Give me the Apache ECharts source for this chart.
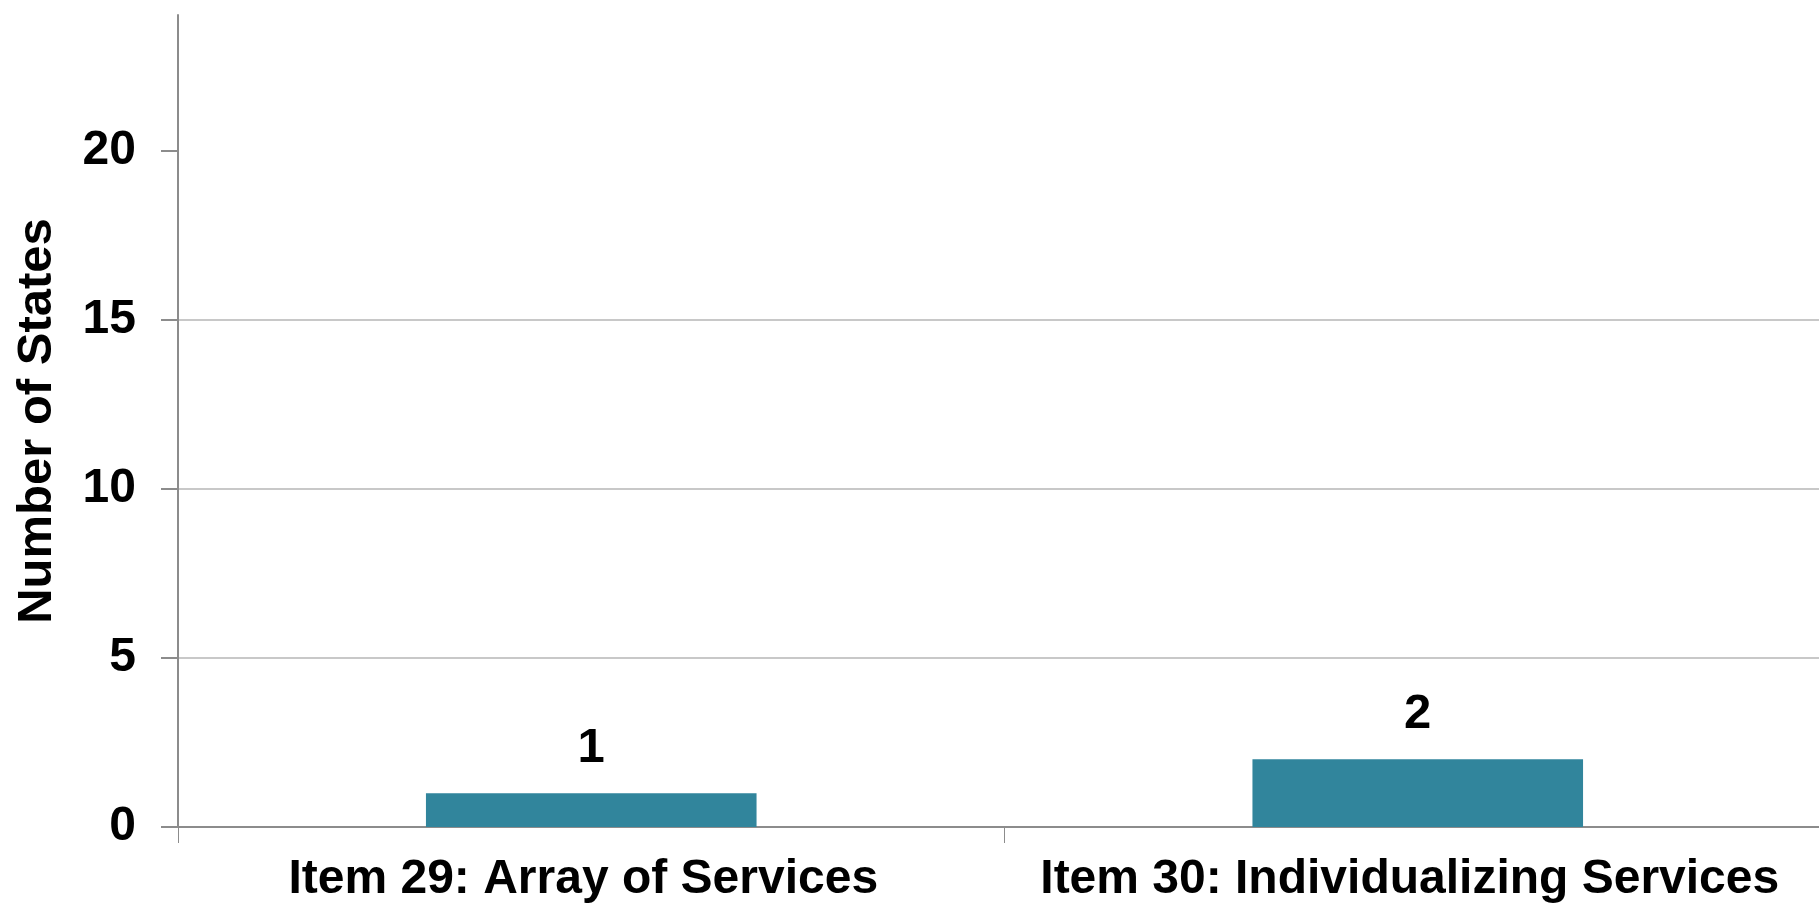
<!DOCTYPE html>
<html>
<head>
<meta charset="utf-8">
<script src="https://cdn.jsdelivr.net/npm/echarts@6/dist/echarts.min.js"></script>
<style>
html,body{margin:0;padding:0;background:#fff;overflow:hidden;width:1819px;height:910px;}
#chart{width:1840px;height:910px;}
</style>
</head>
<body>
<div id="chart"></div>
<script>
const categories = ["Item 29: Array of Services", "Item 30: Individualizing Services"];
const values = [1, 2];
const yTicks = [0, 5, 10, 15, 20];
const yAxisTitle = "Number of States";

const FONT = "'Liberation Sans', Arial, sans-serif";
const chart = echarts.init(document.getElementById('chart'), null, {renderer: 'canvas'});
chart.setOption({
  animation: false,
  backgroundColor: '#ffffff',
  grid: {left: 178, top: 15, width: 1653, height: 812, containLabel: false},
  xAxis: {
    type: 'category',
    data: categories,
    axisLine: {show: true, lineStyle: {color: '#8c8c8c', width: 2}},
    axisTick: {show: true, length: 16, lineStyle: {color: '#8c8c8c', width: 1}},
    axisLabel: {color: '#000', fontFamily: FONT, fontWeight: 'bold', fontSize: 48, margin: 29, interval: 0, padding: [0, 16, 0, 0]}
  },
  yAxis: {
    type: 'value',
    min: 0, max: 24, interval: 5,
    name: yAxisTitle,
    nameLocation: 'middle',
    nameRotate: 90,
    nameGap: 116,
    nameTextStyle: {color: '#000', fontFamily: FONT, fontWeight: 'bold', fontSize: 49},
    axisLine: {show: true, lineStyle: {color: '#8c8c8c', width: 2}},
    axisTick: {show: true, length: 17, inside: false, customValues: yTicks, lineStyle: {color: '#8c8c8c', width: 2}},
    axisLabel: {color: '#000', fontFamily: FONT, fontWeight: 'bold', fontSize: 48, margin: 42, customValues: yTicks},
    splitLine: {show: true, showMaxLine: false, showMinLine: false, lineStyle: {color: '#c8c8c8', width: 2}}
  },
  series: [{
    type: 'bar',
    data: values,
    barWidth: '40%',
    itemStyle: {color: '#31859C'},
    label: {show: true, position: 'top', distance: 20, color: '#000', fontFamily: FONT, fontWeight: 'bold', fontSize: 49}
  }]
});
</script>
</body>
</html>
